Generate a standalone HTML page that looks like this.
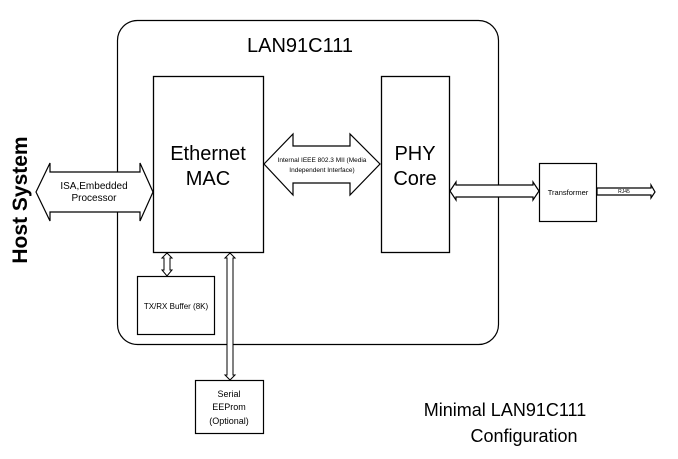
<!DOCTYPE html>
<html><head><style>
body{margin:0;background:#fff;}
svg{display:block;font-family:"Liberation Sans",sans-serif;}
</style></head><body>
<svg width="678" height="459" viewBox="0 0 678 459" xmlns="http://www.w3.org/2000/svg">
<rect x="117.5" y="20.5" width="381" height="324" rx="20" fill="none" stroke="#000" stroke-width="1.2"/>
<text x="300" y="52" font-size="20" text-anchor="middle">LAN91C111</text>
<rect x="153.5" y="76.5" width="110" height="176" fill="#fff" stroke="#000" stroke-width="1.3"/>
<text x="208" y="160" font-size="20" text-anchor="middle">Ethernet</text>
<text x="208" y="185" font-size="20" text-anchor="middle">MAC</text>
<rect x="381.5" y="76.5" width="68" height="176" fill="#fff" stroke="#000" stroke-width="1.3"/>
<text x="415" y="160" font-size="20" text-anchor="middle">PHY</text>
<text x="415" y="185" font-size="20" text-anchor="middle">Core</text>
<!-- host arrow -->
<polygon points="36,192 50,163 50,172 140,172 140,163 153,192 140,221 140,212 50,212 50,221" fill="#fff" stroke="#000" stroke-width="1.2"/>
<text x="94" y="189" font-size="10" text-anchor="middle">ISA,Embedded</text>
<text x="94" y="201" font-size="10" text-anchor="middle">Processor</text>
<!-- MII arrow -->
<polygon points="264,164 293,134 293,146 350,146 350,134 380,164 350,195 350,183 293,183 293,195" fill="#fff" stroke="#000" stroke-width="1.2"/>
<text x="322" y="162" font-size="6.5" text-anchor="middle">Internal IEEE 802.3 MII (Media</text>
<text x="322" y="172" font-size="6.5" text-anchor="middle">Independent Interface)</text>
<!-- phy-transformer -->
<polygon points="450,191 456,182 456,185 533,185 533,182 539,191 533,200 533,197 456,197 456,200" fill="#fff" stroke="#000" stroke-width="1.2"/>
<rect x="539.5" y="163.5" width="57" height="58" fill="#fff" stroke="#000" stroke-width="1.2"/>
<text x="568" y="195" font-size="7.5" text-anchor="middle">Transformer</text>
<polygon points="597,188 651,188 651,185 655,192 651,198 651,195 597,195" fill="#fff" stroke="#000" stroke-width="1.2"/>
<text x="624" y="193" font-size="5" text-anchor="middle">RJ45</text>
<!-- buffer -->
<polygon points="167,253 172,258 170,258 170,270 172,270 167,276 162,270 164,270 164,258 162,258" fill="#fff" stroke="#000" stroke-width="1"/>
<rect x="137.5" y="276.5" width="77" height="58" fill="#fff" stroke="#000" stroke-width="1.2"/>
<text x="176" y="309" font-size="8" text-anchor="middle">TX/RX Buffer (8K)</text>
<!-- eeprom arrow -->
<polygon points="230,253 235,258 233,258 233,375 235,375 230,380 225,375 227,375 227,258 225,258" fill="#fff" stroke="#000" stroke-width="1"/>
<rect x="195.5" y="380.5" width="68" height="53" fill="#fff" stroke="#000" stroke-width="1.2"/>
<text x="229" y="397" font-size="9" text-anchor="middle">Serial</text>
<text x="229" y="410" font-size="9" text-anchor="middle">EEProm</text>
<text x="229" y="424" font-size="9" text-anchor="middle">(Optional)</text>
<text transform="translate(27,200) rotate(-90)" font-size="21" font-weight="bold" text-anchor="middle">Host System</text>
<text x="505" y="416" font-size="18" text-anchor="middle">Minimal LAN91C111</text>
<text x="524" y="442" font-size="18" text-anchor="middle">Configuration</text>
</svg>
</body></html>
